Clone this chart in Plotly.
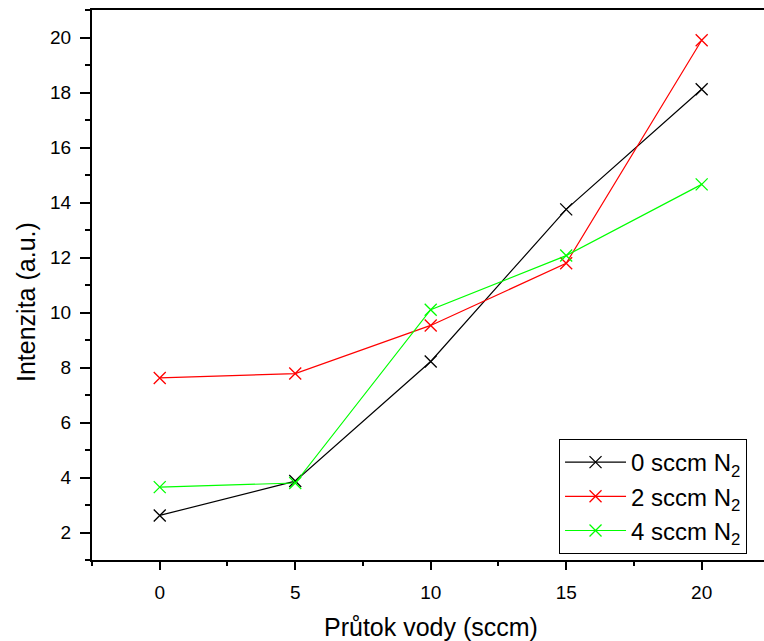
import plotly.graph_objects as go

x_vals = [0, 5, 10, 15, 20]
y_0sccm = [2.62, 3.87, 8.22, 13.75, 18.12]
y_2sccm = [7.62, 7.78, 9.53, 11.79, 19.9]
y_4sccm = [3.65, 3.80, 10.1, 12.07, 14.66]
series_names = ["0 sccm N<sub>2</sub>", "2 sccm N<sub>2</sub>", "4 sccm N<sub>2</sub>"]
series_colors = ["#000000", "#ff0000", "#00ff00"]
x_title = "Průtok vody (sccm)"
y_title = "Intenzita (a.u.)"

FONT = "Arial, Liberation Sans, sans-serif"

fig = go.Figure()
for ys, name, col in zip([y_0sccm, y_2sccm, y_4sccm], series_names, series_colors):
    fig.add_trace(go.Scatter(
        x=x_vals, y=ys, name=name, mode="lines+markers",
        line=dict(color=col, width=1.2),
        marker=dict(symbol="x-thin", size=12, line=dict(color=col, width=1.3)),
    ))

fig.update_layout(
    width=764, height=641,
    margin=dict(l=92, r=0, t=10, b=81, autoexpand=False),
    paper_bgcolor="white", plot_bgcolor="white",
    font=dict(family=FONT, color="black", size=19),
    showlegend=True,
    legend=dict(
        x=0.695, y=0.22, xanchor="left", yanchor="top",
        bordercolor="black", borderwidth=1, bgcolor="white",
        font=dict(size=24, family=FONT), itemwidth=61,
        tracegroupgap=0,
    ),
    xaxis=dict(
        range=[-2.5, 22.3], tickmode="array", tickvals=[0, 5, 10, 15, 20],
        showgrid=False, zeroline=False, automargin=False,
        showline=True, linecolor="black", linewidth=2, mirror=True,
        ticks="outside", ticklen=8, tickwidth=2, tickcolor="black",
        ticklabelstandoff=6,
        minor=dict(tickvals=[-2.5, 2.5, 7.5, 12.5, 17.5, 22.5], ticks="outside", ticklen=4, tickwidth=2, tickcolor="black"),
        tickfont=dict(size=19, family=FONT),
    ),
    yaxis=dict(
        range=[1, 21], tickmode="array", tickvals=[2, 4, 6, 8, 10, 12, 14, 16, 18, 20],
        showgrid=False, zeroline=False, automargin=False,
        showline=True, linecolor="black", linewidth=2, mirror=False,
        ticks="outside", ticklen=10, tickwidth=2, tickcolor="black",
        ticklabelstandoff=5,
        minor=dict(tickvals=[1, 3, 5, 7, 9, 11, 13, 15, 17, 19, 21], ticks="outside", ticklen=5, tickwidth=2, tickcolor="black"),
        tickfont=dict(size=19, family=FONT),
    ),
    annotations=[
        dict(text=x_title, xref="paper", yref="paper", x=(431 - 92) / 672, y=-(627 - 560) / 550,
             xanchor="center", yanchor="middle", showarrow=False, font=dict(size=25, family=FONT)),
        dict(text=y_title, xref="paper", yref="paper", x=-(92 - 26) / 672, y=(560 - 302) / 550,
             xanchor="center", yanchor="middle", textangle=-90, showarrow=False, font=dict(size=25, family=FONT)),
    ],
)

fig.write_html(
    "out.html",
    config={"displayModeBar": False},
    post_script="document.body.style.margin='0';document.body.style.overflow='hidden';",
)
